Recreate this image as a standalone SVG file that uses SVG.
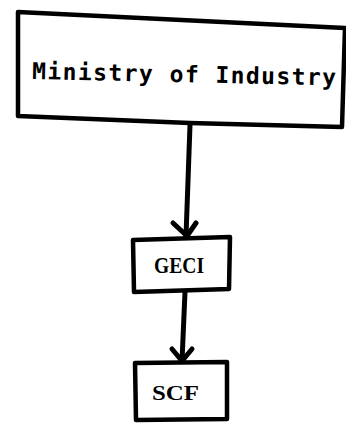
<svg xmlns="http://www.w3.org/2000/svg" width="346" height="423" viewBox="0 0 346 423">
  <style>
    .box { fill: #ffffff; stroke: #000000; stroke-width: 4.5; stroke-linejoin: round; stroke-linecap: round; }
    .wire { fill: none; stroke: #000000; stroke-width: 5; stroke-linecap: round; stroke-linejoin: round; }
    .mono { font-family: "DejaVu Sans Mono", "Liberation Mono", monospace; font-weight: bold; font-size: 23px; fill: #000000; }
    .serif { font-family: "Liberation Serif", "DejaVu Serif", serif; font-weight: bold; fill: #000000; }
  </style>
  <rect width="346" height="423" fill="#ffffff"/>

  <g id="ministry">
    <path class="box" d="M18,12 L345,28 L342,127 L190,123 L18,116 Z"/>
    <text class="mono" x="32" y="79" textLength="304" lengthAdjust="spacing" transform="rotate(1.2 32 79)">Ministry of Industry</text>
  </g>

  <g id="geci">
    <path class="box" d="M133,240 L230,237 L229,289 L134,292 Z"/>
    <text class="serif" x="154" y="273" font-size="23" textLength="50" lengthAdjust="spacingAndGlyphs">GECI</text>
  </g>

  <g id="scf">
    <path class="box" d="M135,363 L227,362 L227,419 L136,420 Z"/>
    <text class="serif" x="152" y="400" font-size="20" textLength="47" lengthAdjust="spacingAndGlyphs">SCF</text>
  </g>

  <g id="connectors">
    <path class="wire" d="M190,125 L186,236"/>
    <path class="wire" d="M173,223 L187,236 L196,223"/>
    <path class="wire" d="M185,292 L182,361"/>
    <path class="wire" d="M172,349 L182,361 L192,349"/>
  </g>
</svg>
